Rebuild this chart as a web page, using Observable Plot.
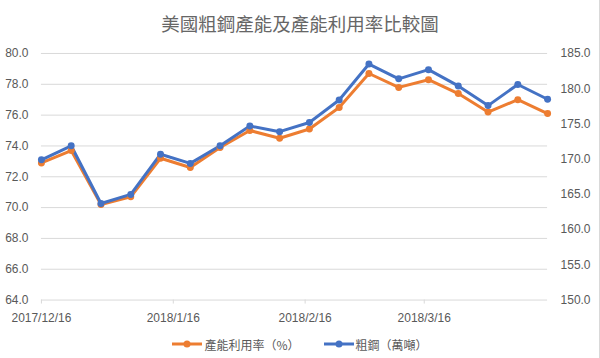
<!DOCTYPE html>
<html>
<head>
<meta charset="utf-8">
<script src="https://cdn.jsdelivr.net/npm/d3@7"></script>
<script src="https://cdn.jsdelivr.net/npm/@observablehq/plot@0.6"></script>
<style>
  html, body { margin: 0; padding: 0; background: #fff; }
  #wrap { position: relative; width: 600px; height: 358px; box-sizing: border-box; border-right: 1px solid #d9d9d9; overflow: hidden; }
  #title { position: absolute; left: 0; top: 0; width: 600px; height: 47px; line-height: 47px; text-align: center; font-family: "Noto Sans CJK TC", sans-serif; font-size: 18.5px; color: #666666; }
  #chart { position: absolute; left: 0; top: 42px; }
  #legend { position: absolute; left: 0; top: 334px; width: 600px; height: 20px; display: flex; justify-content: center; align-items: center; gap: 24px; font-family: "Noto Sans CJK TC", sans-serif; font-size: 12px; color: #595959; }
  .item { display: flex; align-items: center; }
  .item svg { margin-right: 2px; }
</style>
</head>
<body>
<div id="wrap">
  <div id="title">美國粗鋼產能及產能利用率比較圖</div>
  <div id="chart"></div>
  <div id="legend"></div>
</div>
<script>
// ---- data ----
const dates = ["2017-12-16","2017-12-23","2017-12-30","2018-01-06","2018-01-13","2018-01-20","2018-01-27","2018-02-03","2018-02-10","2018-02-17","2018-02-24","2018-03-03","2018-03-10","2018-03-17","2018-03-24","2018-03-31","2018-04-07","2018-04-14"];
const utilization = [72.9, 73.7, 70.2, 70.7, 73.2, 72.6, 73.9, 75.0, 74.5, 75.1, 76.5, 78.7, 77.8, 78.3, 77.4, 76.2, 77.0, 76.1];
const crudeSteel = [169.9, 171.9, 163.7, 165.0, 170.7, 169.4, 171.9, 174.7, 173.9, 175.2, 178.4, 183.5, 181.4, 182.7, 180.4, 177.6, 180.6, 178.5];
const seriesNames = ["產能利用率（%）", "粗鋼（萬噸）"];
const xTickLabels = ["2017/12/16", "2018/1/16", "2018/2/16", "2018/3/16"];
const leftTicks = [64, 66, 68, 70, 72, 74, 76, 78, 80];
const rightTicks = [150, 155, 160, 165, 170, 175, 180, 185];

const colors = ["#ED7D31", "#4472C4"];
const textColor = "#595959";
const gridColor = "#d9d9d9";

const parseDate = d3.utcParse("%Y-%m-%d");
const parseTick = d3.utcParse("%Y/%m/%d");
const fmtTick = d3.utcFormat("%Y/%-m/%-d");

// map right axis values onto left scale
const L0 = leftTicks[0], L1 = leftTicks[leftTicks.length - 1];
const R0 = rightTicks[0], R1 = rightTicks[rightTicks.length - 1];
const toLeft = v => L0 + (v - R0) * (L1 - L0) / (R1 - R0);
const fromLeft = v => R0 + (v - L0) * (R1 - R0) / (L1 - L0);

const rows = [];
dates.forEach((d, i) => {
  rows.push({date: parseDate(d), series: seriesNames[0], y: utilization[i]});
});
dates.forEach((d, i) => {
  rows.push({date: parseDate(d), series: seriesNames[1], y: toLeft(crudeSteel[i])});
});
const xTicks = xTickLabels.map(parseTick);

const chart = Plot.plot({
  width: 600,
  height: 290,
  marginTop: 11,
  marginBottom: 32,
  marginLeft: 41,
  marginRight: 52,
  style: {fontFamily: "'Liberation Sans', Arial, sans-serif", fontSize: "12px", color: textColor, background: "transparent", overflow: "visible"},
  x: {type: "utc", domain: [parseDate(dates[0]), parseDate(dates[dates.length - 1])]},
  y: {domain: [L0, L1]},
  color: {domain: seriesNames, range: colors},
  marks: [
    Plot.gridY(leftTicks, {stroke: gridColor, strokeOpacity: 1, strokeWidth: 1}),
    Plot.axisY(leftTicks, {anchor: "left", tickSize: 0, tickPadding: 13, tickFormat: d => d.toFixed(1), label: null, fill: textColor}),
    Plot.axisY(rightTicks.map(toLeft), {anchor: "right", tickSize: 0, tickPadding: 13, tickFormat: d => fromLeft(d).toFixed(1), label: null, fill: textColor}),
    Plot.axisX(xTicks, {anchor: "bottom", tickSize: 4, tickPadding: 9, tickFormat: fmtTick, label: null, stroke: gridColor, fill: textColor}),
    Plot.line(rows, {x: "date", y: "y", z: "series", stroke: "series", strokeWidth: 3, strokeLinejoin: "round", strokeLinecap: "round"}),
    Plot.dot(rows, {x: "date", y: "y", fill: "series", r: 3.5, stroke: null})
  ]
});
document.getElementById("chart").appendChild(chart);

// legend
const legend = document.getElementById("legend");
seriesNames.forEach((name, i) => {
  const item = document.createElement("div");
  item.className = "item";
  item.innerHTML = `<svg width="30" height="10"><line x1="0" y1="5" x2="30" y2="5" stroke="${colors[i]}" stroke-width="3"/><circle cx="15" cy="5" r="3.5" fill="${colors[i]}"/></svg><span>${name}</span>`;
  legend.appendChild(item);
});
</script>
</body>
</html>
